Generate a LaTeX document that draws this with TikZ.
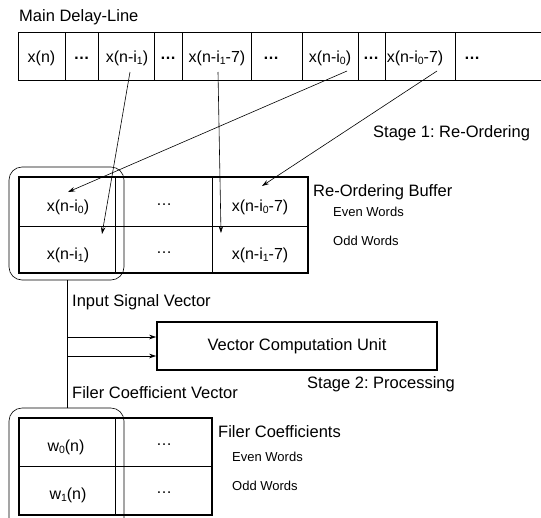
\documentclass[tikz,border=0pt]{standalone}
\usepackage{fontspec}
\setmainfont{Liberation Sans}
\usetikzlibrary{arrows.meta}
\frenchspacing
\newcommand\sdig[1]{\raisebox{-0.25ex}{\fontsize{10.5}{10}\selectfont #1}}
\newcommand\mdots{\raisebox{0.3em}{…}}
\tikzset{
  lbl/.style={inner sep=0pt, anchor=west, font=\fontsize{16.5}{19}\selectfont},
  small/.style={inner sep=0pt, anchor=west, font=\fontsize{13}{15}\selectfont},
  cell/.style={inner sep=0pt, font=\fontsize{16}{19}\selectfont},
  frame/.style={line width=1.6pt},
  grid/.style={line width=0.8pt},
  arr/.style={line width=0.6pt, -{Stealth[length=7pt,width=4.5pt]}},
  vec/.style={line width=0.6pt, rounded corners=13pt},
}
\begin{document}
\begin{tikzpicture}[x=1pt,y=-1pt]
\useasboundingbox (0,0) rectangle (541,517);
% main delay line
\node[lbl] (mdl) at (19,17) {Main Delay-Line};
\draw[frame] (18,32.5) -- (541,32.5);
\draw[frame] (18,80.5) -- (541,80.5);
\foreach \xx in {18,65,98,154,182,251,302,358,385,455}
  \draw[grid] (\xx,32.5) -- (\xx,80.5);
\node[cell] (d1) at (41.5,58) {x(n)};
\node[cell] (d2) at (81.5,58) {\textbf{…}};
\node[cell] (d3) at (127,58) {x(n-i\sdig{1})};
\node[cell] (d4) at (168,58) {\textbf{…}};
\node[cell] (d5) at (217,58) {x(n-i\sdig{1}-7)};
\node[cell] (d6) at (271,58) {\textbf{…}};
\node[cell] (d7) at (330,58) {x(n-i\sdig{0})};
\node[cell] (d8) at (371,58) {\textbf{…}};
\node[cell] (d9) at (415,58) {x(n-i\sdig{0}-7)};
\node[cell] (d10) at (472,58) {\textbf{…}};
\node[lbl] (st1) at (373,133) {Stage 1: Re-Ordering};
% re-ordering buffer
\draw[frame] (19,177) rectangle (308,273);
\draw[grid] (19,226) -- (308,226);
\draw[grid] (115,177) -- (115,273);
\draw[grid] (212,177) -- (212,273);
\node[cell] (b1) at (68,207) {x(n-i\sdig{0})};
\node[cell] (b2) at (164,207) {\mdots};
\node[cell] (b3) at (260,207) {x(n-i\sdig{0}-7)};
\node[cell] (b4) at (68,255) {x(n-i\sdig{1})};
\node[cell] (b5) at (164,255) {\mdots};
\node[cell] (b6) at (260,255) {x(n-i\sdig{1}-7)};
\node[lbl] (rob) at (313,192) {Re-Ordering Buffer};
\node[small] (rev) at (333,212) {Even Words};
\node[small] (rod) at (333,241) {Odd Words};
\draw[vec] (9,167) rectangle (124,280);
\coordinate (isv) at (67,280);
% reorder arrows
\coordinate (s3) at (130,72);
\coordinate (s5) at (218,72);
\coordinate (s7) at (347,71);
\coordinate (s9) at (437,71);
\coordinate (e3) at (102,234);
\coordinate (e5) at (221,233);
\coordinate (e7) at (68,192);
\coordinate (e9) at (262,186);
\draw[arr] (s3) -- (e3);
\draw[arr] (s5) -- (e5);
\draw[arr] (s7) -- (e7);
\draw[arr] (s9) -- (e9);
% vector computation unit
\node[draw, frame, minimum width=280pt, minimum height=48pt, inner sep=0pt,
      font=\fontsize{16.5}{19}\selectfont] (vcu) at (297,346) {Vector Computation Unit};
\node[lbl] (isvl) at (72,302) {Input Signal Vector};
\node[lbl] (st2) at (307,384) {Stage 2: Processing};
\node[lbl] (fcvl) at (72,393) {Filer Coefficient Vector};
\coordinate (fcv) at (67,408);
\draw[arr] (isv) |- ([yshift=-10pt]vcu.west);
\draw[arr] (fcv) |- ([yshift=9pt]vcu.west);
% filter coefficients
\draw[frame] (19,418) rectangle (212,515);
\draw[grid] (19,466) -- (212,466);
\draw[grid] (115,418) -- (115,515);
\node[cell] (w1) at (66,447) {w\sdig{0}(n)};
\node[cell] (w2) at (164,447) {\mdots};
\node[cell] (w3) at (68,495) {w\sdig{1}(n)};
\node[cell] (w4) at (164,495) {\mdots};
\node[lbl] (fcl) at (218,432) {Filer Coefficients};
\node[small] (fev) at (232,457) {Even Words};
\node[small] (fod) at (232,486) {Odd Words};
\draw[vec] (9,530) -- (9,408) -- (124,408) -- (124,530);
\end{tikzpicture}
\end{document}
